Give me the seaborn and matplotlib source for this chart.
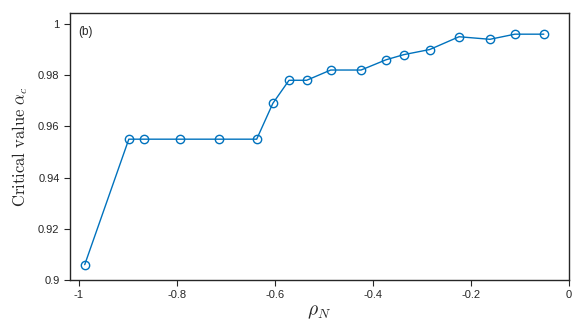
import pandas as pd
import matplotlib
matplotlib.use("Agg")
import matplotlib.pyplot as plt
import seaborn as sns
from matplotlib.ticker import FuncFormatter

# data
rho_n = [-0.988, -0.898, -0.867, -0.794, -0.714, -0.637, -0.604, -0.571, -0.535,
         -0.486, -0.424, -0.373, -0.337, -0.284, -0.224, -0.161, -0.110, -0.051]
alpha_c = [0.906, 0.955, 0.955, 0.955, 0.955, 0.955, 0.969, 0.978, 0.978,
           0.982, 0.982, 0.986, 0.988, 0.990, 0.995, 0.994, 0.996, 0.996]

df = pd.DataFrame({"rho": rho_n, "alpha": alpha_c})

sns.set_style("ticks")
plt.rcParams["font.family"] = ["Liberation Sans", "DejaVu Sans"]
plt.rcParams["mathtext.fontset"] = "cm"
plt.rcParams["axes.unicode_minus"] = False

fig = plt.figure(figsize=(5.81, 3.23), dpi=100)
ax = fig.add_axes([0.1205, 0.133, 0.8585, 0.827])

sns.lineplot(data=df, x="rho", y="alpha", ax=ax, color="#0072BD", lw=1,
             marker="o", markersize=6, markerfacecolor="none",
             markeredgecolor="#0072BD", markeredgewidth=1)

ax.set_xlim(-1.018, 0)
ax.set_ylim(0.9, 1.0043)
ax.set_xticks([-1, -0.8, -0.6, -0.4, -0.2, 0])
ax.set_yticks([0.9, 0.92, 0.94, 0.96, 0.98, 1])
fmt = FuncFormatter(lambda v, p: "%g" % round(v, 4))
ax.xaxis.set_major_formatter(fmt)
ax.yaxis.set_major_formatter(fmt)
ax.tick_params(labelsize=8, direction="out", length=4, width=0.8, colors="#262626")
for s in ax.spines.values():
    s.set_linewidth(1)
    s.set_color("#262626")

ax.set_xlabel(r"$\rho_N$", fontsize=14, labelpad=2)
ax.set_ylabel(r"$\mathrm{Critical\ value}\ \alpha_c$", fontsize=12, labelpad=6)
ax.text(0.016, 0.93, "(b)", transform=ax.transAxes, fontsize=8.5, va="center")

fig.savefig("out.png", dpi=100)
